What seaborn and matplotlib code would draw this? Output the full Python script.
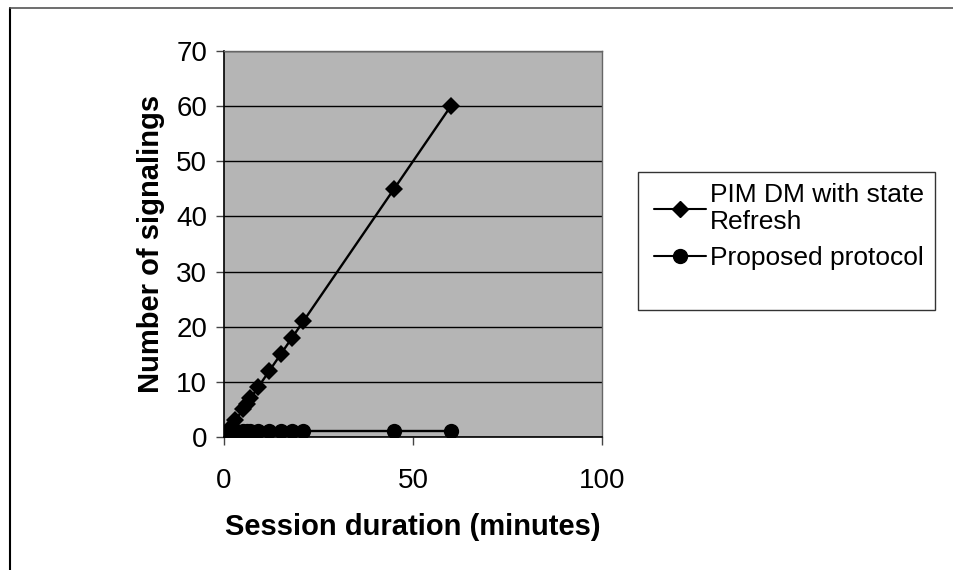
import pandas as pd
import numpy as np
import matplotlib
matplotlib.use("Agg")
import matplotlib.pyplot as plt
import seaborn as sns
from matplotlib.lines import Line2D
from matplotlib.patches import Rectangle

# data
durations = [1, 2, 3, 5, 6, 7, 9, 12, 15, 18, 21, 45, 60]
pim_dm = [1, 2, 3, 5, 6, 7, 9, 12, 15, 18, 21, 45, 60]
proposed = [1, 1, 1, 1, 1, 1, 1, 1, 1, 1, 1, 1, 1]

series_names = ["PIM DM with state\nRefresh", "Proposed protocol"]
y_ticks = [0, 10, 20, 30, 40, 50, 60, 70]
x_ticks = [0, 50, 100]

df = pd.concat([
    pd.DataFrame({"Session duration": durations, "Signalings": pim_dm, "Series": series_names[0]}),
    pd.DataFrame({"Session duration": durations, "Signalings": proposed, "Series": series_names[1]}),
], ignore_index=True)

sns.set_theme(style="white")
plt.rcParams["font.family"] = ["Liberation Sans", "DejaVu Sans"]
plt.rcParams["text.color"] = "black"
plt.rcParams["axes.labelcolor"] = "black"
plt.rcParams["xtick.color"] = "black"
plt.rcParams["ytick.color"] = "black"

fig = plt.figure(figsize=(9.54, 5.70), dpi=100)
ax = fig.add_axes([224 / 954, 1 - 437 / 570, 378 / 954, 386 / 570])
ax.set_facecolor("#b5b5b5")

sns.lineplot(
    data=df,
    x="Session duration",
    y="Signalings",
    hue="Series",
    style="Series",
    markers={series_names[0]: "D", series_names[1]: "o"},
    dashes=False,
    palette={series_names[0]: "black", series_names[1]: "black"},
    markersize=10,
    markeredgewidth=0,
    linewidth=1.7,
    ax=ax,
    legend=False,
    zorder=3,
)
# diamonds drawn slightly smaller than circles
for line, ms in zip(ax.lines, [9.5, 11]):
    line.set_markersize(ms)

ax.set_xlim(0, 100)
ax.set_ylim(0, 70)
ax.set_xticks(x_ticks)
ax.set_yticks(y_ticks)
ax.yaxis.grid(True, color="black", linewidth=1.0)
ax.xaxis.grid(False)
ax.set_axisbelow(True)

ax.tick_params(axis="both", which="major", labelsize=20, direction="out",
               length=6, width=1, color="#444444", labelcolor="black",
               left=True, bottom=True, pad=6)
ax.tick_params(axis="x", pad=16)

for side in ["left", "bottom"]:
    ax.spines[side].set_color("black")
    ax.spines[side].set_linewidth(1.2)
for side in ["top", "right"]:
    ax.spines[side].set_color("#666666")
    ax.spines[side].set_linewidth(1.0)

ax.set_xlabel("Session duration (minutes)", fontsize=21, fontweight="bold", labelpad=14)
ax.set_ylabel("Number of signalings", fontsize=21, fontweight="bold", labelpad=8)

# legend box drawn in figure coordinates
fig.patches.append(Rectangle((638 / 954, 1 - 310 / 570), 297 / 954, 138 / 570,
                             transform=fig.transFigure, fill=False,
                             edgecolor="#333333", linewidth=1.0))
handles = [
    Line2D([0], [0], color="black", marker="D", markersize=8, linewidth=1.5),
    Line2D([0], [0], color="black", marker="o", markersize=10, linewidth=1.5),
]
fig.legend(handles, series_names, loc="upper left",
           bbox_to_anchor=(643 / 954, 1 - 172 / 570), frameon=False,
           fontsize=19, handlelength=2.0, handletextpad=0.15,
           labelspacing=0.45, borderaxespad=0)

# chart area border (left and top only visible)
fig.add_artist(Line2D([10 / 954, 10 / 954], [0, 1 - 8 / 570], transform=fig.transFigure,
                      color="black", linewidth=1.5))
fig.add_artist(Line2D([10 / 954, 1], [1 - 8 / 570, 1 - 8 / 570], transform=fig.transFigure,
                      color="#555555", linewidth=1.2))

fig.savefig("out.png", dpi=100)
plt.close(fig)
